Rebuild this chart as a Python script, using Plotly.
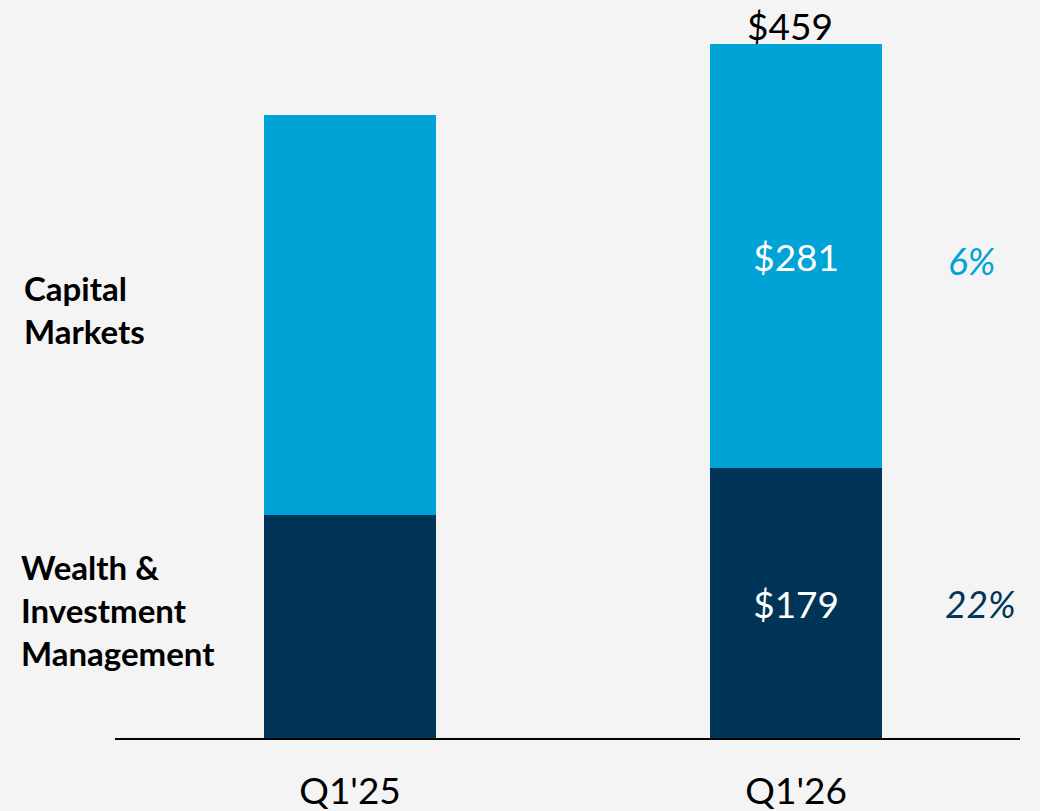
import plotly.graph_objects as go

quarters = ["Q1'25", "Q1'26"]
wim = [148, 179]
cap_markets = [265, 281]
wim_text = ["", "$179"]
cm_text = ["", "$281"]
total_label = "$459"
growth_cm = "6%"
growth_wim = "22%"

LIGHT = "#00a3d6"
DARK = "#003557"
BG = "#f4f4f4"
FONT = "Lato, Open Sans, sans-serif"

fig = go.Figure()
fig.add_trace(go.Bar(
    x=quarters, y=wim, name="Wealth & Investment Management",
    marker=dict(color=DARK, line=dict(width=0)),
    text=wim_text, textposition="inside", insidetextanchor="middle",
    textfont=dict(color="white", size=37, family=FONT),
))
fig.add_trace(go.Bar(
    x=quarters, y=cap_markets, name="Capital Markets",
    marker=dict(color=LIGHT, line=dict(width=0)),
    text=cm_text, textposition="inside", insidetextanchor="middle",
    textfont=dict(color="white", size=37, family=FONT),
))

# total on top of Q1'26
fig.add_annotation(x=quarters[1], y=wim[1] + cap_markets[1], text=total_label,
                   showarrow=False, yanchor="bottom", yshift=-6, xshift=-6,
                   font=dict(size=37, color="black", family=FONT))

# growth rates to the right
fig.add_annotation(x=1.335, y=wim[1] + cap_markets[1] / 2, text=f"<i>{growth_cm}</i>",
                   showarrow=False, xanchor="left", yshift=-4,
                   font=dict(size=37, color=LIGHT, family=FONT))
fig.add_annotation(x=1.33, y=wim[1] / 2, text=f"<i>{growth_wim}</i>",
                   showarrow=False, xanchor="left",
                   font=dict(size=37, color=DARK, family=FONT))

# segment labels on the left
fig.add_annotation(xref="paper", x=-0.103, y=284, text="<b>Capital<br>Markets</b>",
                   showarrow=False, xanchor="left", align="left",
                   font=dict(size=33, color="black", family=FONT))
fig.add_annotation(xref="paper", x=-0.106, y=85, text="<b>Wealth &<br>Investment<br>Management</b>",
                   showarrow=False, xanchor="left", align="left",
                   font=dict(size=33, color="black", family=FONT))

fig.update_layout(
    barmode="stack", bargap=0.614,
    width=1032, height=803,
    margin=dict(l=107, r=20, t=0, b=73),
    paper_bgcolor=BG, plot_bgcolor=BG,
    showlegend=False,
    xaxis=dict(range=[-0.527, 1.502], showline=True, linecolor="black", linewidth=2,
               showgrid=False, ticks="", tickfont=dict(size=37, color="black", family=FONT),
               ticklabelstandoff=20),
    yaxis=dict(range=[0, 484], visible=False, showgrid=False, zeroline=False),
)

fig.write_html("out.html", post_script="document.body.style.backgroundColor='#f4f4f4';")
